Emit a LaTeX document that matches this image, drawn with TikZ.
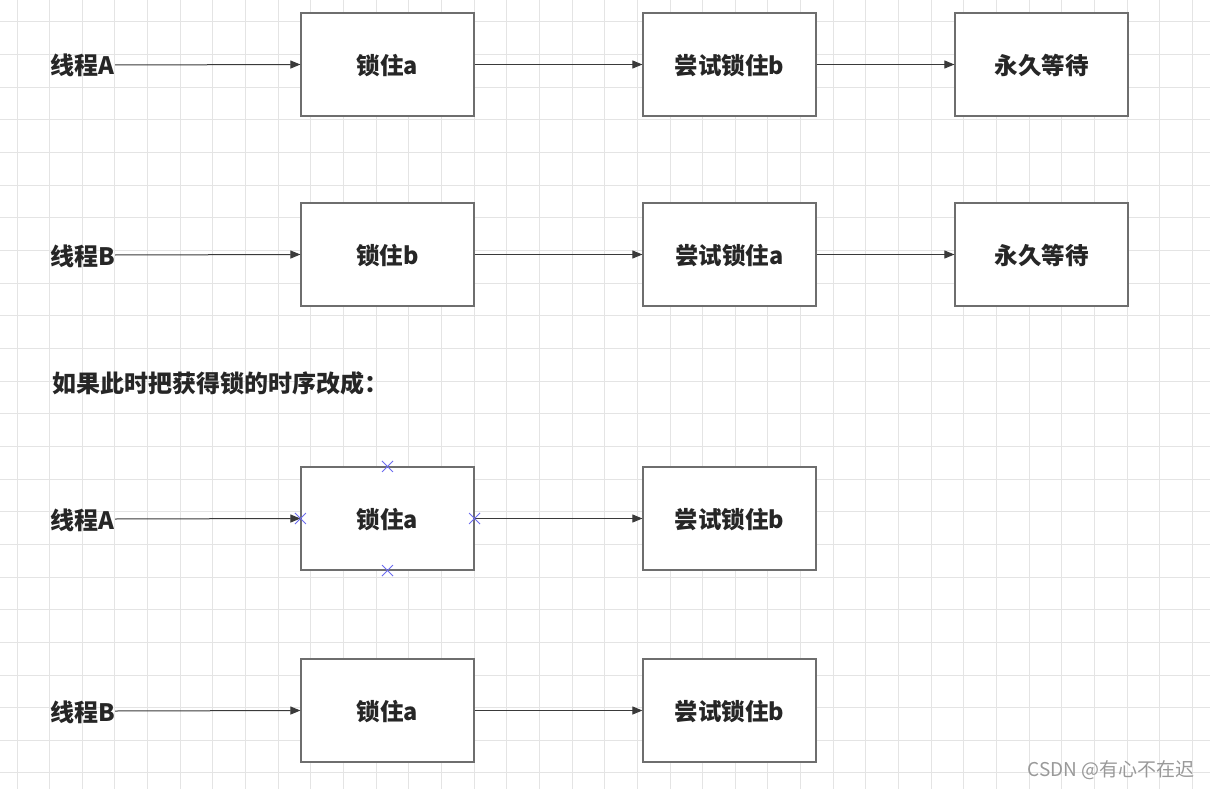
\documentclass[tikz,border=0pt]{standalone}
\usepackage{fontspec}
\setmainfont{Noto Sans CJK SC}
\usetikzlibrary{arrows.meta}
\definecolor{gridc}{HTML}{E4E4E4}
\definecolor{boxc}{HTML}{6E6E6E}
\definecolor{linec}{HTML}{3A3A3A}
\definecolor{txtc}{HTML}{262626}
\definecolor{markc}{HTML}{6B6BF0}
\tikzset{
  stepbox/.style={draw=boxc, line width=1.2pt, fill=white, minimum width=173pt, minimum height=103pt, inner sep=0pt, font=\fontsize{23.5}{25}\selectfont\bfseries, text=txtc, text depth=0pt, text height=20pt},
  lbl/.style={anchor=east, inner sep=0pt, font=\fontsize{24}{26}\selectfont\bfseries, text=txtc, text depth=0pt, text height=20pt},
  conn/.style={draw=linec, line width=1pt, -{Triangle[length=10pt,width=8pt]}},
  xmark/.style={draw=markc, line width=0.9pt},
}
\begin{document}
\begin{tikzpicture}[x=1pt,y=-1pt]
\useasboundingbox (0,0) rectangle (1210,789);
\fill[white] (0,0) rectangle (1210,789);
% grid
\foreach \i in {0,...,36} {\draw[gridc, line width=1pt] ({17+32.65*\i},0) -- ({17+32.65*\i},789);}
\foreach \j in {0,...,23} {\draw[gridc, line width=1pt] (0,{22+32.65*\j}) -- (1210,{22+32.65*\j});}
% row 1
\node[lbl] (la1) at (115,65) {线程A};
\node[stepbox] (a1) at (387.5,64.5) {锁住a};
\node[stepbox] (a2) at (729.5,64.5) {尝试锁住b};
\node[stepbox] (a3) at (1041.5,64.5) {永久等待};
\draw[conn] (la1.east) -- (a1.west);
\draw[conn] (a1.east) -- (a2.west);
\draw[conn] (a2.east) -- (a3.west);
% row 2
\node[lbl] (lb1) at (115,255) {线程B};
\node[stepbox] (b1) at (387.5,254.5) {锁住b};
\node[stepbox] (b2) at (729.5,254.5) {尝试锁住a};
\node[stepbox] (b3) at (1041.5,254.5) {永久等待};
\draw[conn] (lb1.east) -- (b1.west);
\draw[conn] (b1.east) -- (b2.west);
\draw[conn] (b2.east) -- (b3.west);
% heading
\node[anchor=west, inner sep=0pt, font=\fontsize{24}{26}\selectfont\bfseries, text=txtc, text depth=0pt, text height=20pt] (hd) at (52,382) {如果此时把获得锁的时序改成：};
% row 3
\node[lbl] (lc1) at (115,519) {线程A};
\node[stepbox] (c1) at (387.5,518.5) {锁住a};
\node[stepbox] (c2) at (729.5,518.5) {尝试锁住b};
\draw[conn] (lc1.east) -- (c1.west);
\draw[conn] (c1.east) -- (c2.west);
\foreach \a in {north,south,east,west} {
  \draw[xmark] ([shift={(-5.5,-5.5)}]c1.\a) -- ([shift={(5.5,5.5)}]c1.\a);
  \draw[xmark] ([shift={(-5.5,5.5)}]c1.\a) -- ([shift={(5.5,-5.5)}]c1.\a);
}
% row 4
\node[lbl] (ld1) at (115,711) {线程B};
\node[stepbox] (d1) at (387.5,710.5) {锁住a};
\node[stepbox] (d2) at (729.5,710.5) {尝试锁住b};
\draw[conn] (ld1.east) -- (d1.west);
\draw[conn] (d1.east) -- (d2.west);
% watermark
\node[anchor=east, inner sep=0pt, font=\fontsize{19}{21}\selectfont, text=black!40] (wm) at (1195,770) {CSDN @有心不在迟};
\end{tikzpicture}
\end{document}
